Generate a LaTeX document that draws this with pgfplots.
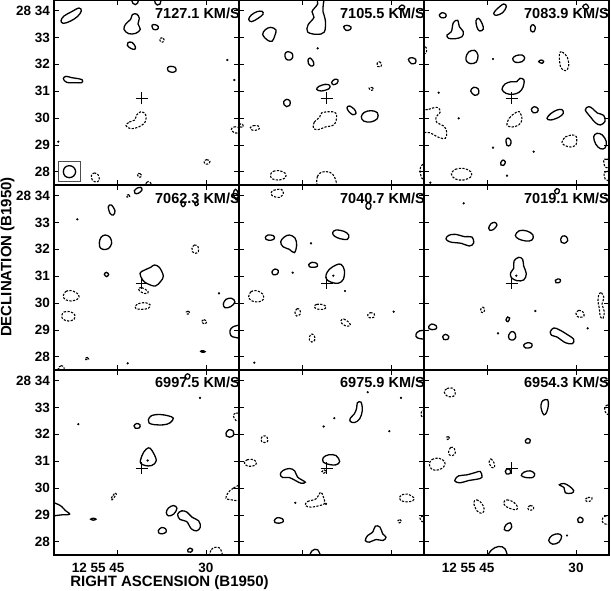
\documentclass[border=0pt]{standalone}
\usepackage{pgfplots}
\pgfplotsset{compat=1.18}
\usepackage{fontspec}
\setmainfont{Liberation Sans}
\pgfplotsset{
  panel/.style={
    scale only axis, width=185pt, height=185pt, anchor=north west,
    xmin=0, xmax=185, ymin=0, ymax=185,
    xtick={63,152}, ytick={13.1,40,66.9,93.8,120.7,147.6,174.5},
    xticklabels={}, yticklabels={},
    tick align=inside, xtick pos=both, ytick pos=both,
    xticklabel pos=left, yticklabel pos=left,
    major tick length=5pt,
    axis line style={line width=1.1pt},
    every tick/.style={line width=0.9pt, black},
    ticklabel style={font=\fontsize{13.5}{15}\selectfont\bfseries, inner sep=0pt},
    xticklabel style={yshift=-8pt},
    yticklabel style={xshift=-4pt},
  },
  pcon/.style={black, line width=1.3pt, smooth cycle, tension=0.6},
  ncon/.style={black, line width=1.1pt, smooth cycle, tension=0.6, dash pattern=on 2.2pt off 1.4pt},
  dotc/.style={black, only marks, mark=*, mark size=0.9pt},
  crossc/.style={black, only marks, mark=+, mark size=6pt, mark options={line width=0.9pt}},
}
\newcommand{\lab}{\fontsize{14.5}{16}\selectfont\bfseries}
\begin{document}
\begin{tikzpicture}
\useasboundingbox (0pt,0pt) rectangle (611pt,-590pt);
% ---------------- Panel 1
\begin{axis}[panel, at={(54pt,0pt)}, x filter/.expression={x/3-54}, y filter/.expression={185-y/3},
  yticklabels={28,29,30,31,32,33,28 34}]
\addplot[pcon] coordinates {(183,62)(192,48)(215,35)(237,24)(244,33)(232,50)(210,64)(190,70)};
\addplot[pcon] coordinates {(392,58)(397,44)(410,42)(418,55)(414,72)(421,88)(407,100)(386,101)(372,88)(377,72)};
\addplot[pcon] coordinates {(384,128)(396,127)(406,140)(404,148)(392,145)(382,136)};
\addplot[pcon] coordinates {(456,76)(466,74)(475,80)(472,88)(460,88)};
\addplot[ncon] coordinates {(480,115)(490,115)(492,124)(482,126)};
\addplot[pcon] coordinates {(395,-5)(399,10)(406,14)(413,9)(414,-5)};
\addplot[pcon] coordinates {(465,-5)(466,10)(472,15)(480,12)(482,-5)};
\addplot[pcon] coordinates {(503,203)(512,199)(525,202)(528,212)(518,217)(505,213)};
\addplot[pcon] coordinates {(190,236)(198,229)(215,233)(235,236)(247,240)(245,248)(225,248)(200,247)};
\addplot[ncon] coordinates {(378,377)(388,366)(404,360)(410,345)(423,335)(437,344)(436,365)(418,380)(392,386)};
\addplot[ncon] coordinates {(694,388)(702,381)(715,382)(716,396)(704,399)};
\addplot[ncon] coordinates {(612,484)(620,479)(630,484)(624,492)(614,491)};
\addplot[ncon] coordinates {(274,527)(282,519)(294,524)(298,540)(288,546)(277,540)};
\addplot[ncon] coordinates {(412,522)(420,521)(425,528)(417,532)};
\addplot[ncon] coordinates {(436,560)(440,547)(450,546)(455,560)};
\addplot[dotc] coordinates {(682,180)(703,240)(175,425)};
\addplot[gray!60!black, line width=1.3pt] coordinates {(176,484)(242,484)(242,545)(176,545)(176,484)};
\addplot[pcon] coordinates {(208,497)(221,502)(227,515)(221,528)(208,533)(195,528)(190,515)(195,502)};
\addplot[crossc] coordinates {(424.5,294.9)};
\end{axis}
% ---------------- Panel 2
\begin{axis}[panel, at={(239pt,0pt)}, x filter/.expression={x/3-3}, y filter/.expression={185-y/3}]
\addplot[pcon] coordinates {(38,58)(46,45)(63,35)(78,34)(81,43)(66,55)(47,65)};
\addplot[pcon] coordinates {(80,104)(88,89)(104,82)(120,90)(116,108)(108,124)(94,120)};
\addplot[pcon] coordinates {(244,-5)(245,12)(228,35)(234,52)(216,75)(215,96)(242,103)(265,96)(268,60)(261,35)(262,12)(263,-5)};
\addplot[pcon] coordinates {(323,80)(333,76)(345,81)(342,89)(330,91)};
\addplot[pcon] coordinates {(147,162)(155,155)(168,160)(170,172)(162,180)(150,177)};
\addplot[pcon] coordinates {(216,180)(222,174)(231,183)(233,195)(225,198)(217,190)};
\addplot[ncon] coordinates {(424,188)(431,185)(437,192)(433,201)(425,199)};
\addplot[pcon] coordinates {(517,178)(527,173)(539,178)(538,189)(526,191)};
\addplot[pcon] coordinates {(242,268)(249,259)(268,253)(281,256)(279,266)(256,273)};
\addplot[pcon] coordinates {(287,247)(296,238)(306,240)(303,250)(292,254)};
\addplot[ncon] coordinates {(399,264)(407,262)(413,268)(405,271)};
\addplot[pcon] coordinates {(143,305)(152,298)(162,303)(161,316)(152,320)(144,314)};
\addplot[pcon] coordinates {(333,323)(341,318)(355,328)(360,340)(350,344)(338,334)};
\addplot[pcon] coordinates {(376,350)(385,337)(405,332)(424,338)(424,356)(404,366)(383,363)};
\addplot[ncon] coordinates {(232,384)(235,366)(251,352)(258,338)(295,336)(302,350)(294,374)(268,381)(246,389)};
\addplot[ncon] coordinates {(43,383)(52,377)(67,378)(70,386)(58,391)(46,389)};
\addplot[ncon] coordinates {(12,372)(20,373)(22,380)(14,381)};
\addplot[ncon] coordinates {(103,525)(112,514)(130,512)(148,520)(148,533)(130,540)(110,537)};
\addplot[ncon] coordinates {(248,560)(244,530)(258,516)(282,517)(296,532)(298,560)};
\addplot[ncon] coordinates {(552,510)(558,495)(570,495)(570,535)(558,535)};
\addplot[pcon] coordinates {(488,25)(497,15)(506,20)(500,30)};
\addplot[dotc] coordinates {(245,145)};
\addplot[crossc] coordinates {(271.5,294.9)};
\end{axis}
% ---------------- Panel 3
\begin{axis}[panel, at={(424pt,0pt)}, x filter/.expression={x/3-2}, y filter/.expression={185-y/3}]
\addplot[pcon] coordinates {(52,45)(61,38)(72,43)(70,52)(58,53)};
\addplot[pcon] coordinates {(75,105)(88,95)(94,68)(107,61)(112,80)(124,95)(120,110)(100,116)(80,115)};
\addplot[pcon] coordinates {(162,62)(170,55)(180,70)(184,87)(173,93)(165,82)};
\addplot[pcon] coordinates {(215,40)(226,26)(245,12)(253,20)(242,38)(223,46)};
\addplot[pcon] coordinates {(326,80)(333,74)(340,82)(336,95)(327,93)};
\addplot[ncon] coordinates {(-5,140)(10,140)(14,150)(10,160)(-5,160)};
\addplot[pcon] coordinates {(132,172)(140,156)(158,151)(168,166)(163,186)(146,191)(134,184)};
\addplot[pcon] coordinates {(272,176)(282,167)(300,165)(308,174)(300,185)(280,187)};
\addplot[pcon] coordinates {(350,185)(357,180)(365,184)(360,190)};
\addplot[ncon] coordinates {(412,162)(421,156)(436,172)(440,198)(431,212)(416,202)};
\addplot[pcon] coordinates {(240,268)(249,252)(268,245)(284,245)(294,235)(306,240)(303,262)(291,277)(272,283)(252,280)};
\addplot[pcon] coordinates {(146,273)(155,262)(168,266)(170,280)(158,286)};
\addplot[ncon] coordinates {(-5,335)(20,328)(45,322)(55,335)(42,352)(45,368)(65,378)(74,395)(70,415)(50,412)(22,398)(-5,395)(-10,365)};
\addplot[ncon] coordinates {(255,375)(262,354)(278,340)(292,335)(300,358)(290,375)(270,381)};
\addplot[pcon] coordinates {(328,328)(337,320)(348,326)(346,336)(334,338)};
\addplot[pcon] coordinates {(375,355)(386,341)(405,330)(420,329)(424,340)(410,352)(386,360)};
\addplot[pcon] coordinates {(490,330)(500,320)(512,326)(526,339)(545,346)(549,364)(535,375)(520,368)(508,354)};
\addplot[ncon] coordinates {(420,426)(430,411)(450,405)(463,410)(462,434)(445,441)(426,435)};
\addplot[pcon] coordinates {(515,410)(525,400)(541,405)(553,425)(549,444)(535,446)(521,432)};
\addplot[pcon] coordinates {(252,420)(259,414)(267,423)(264,436)(255,436)};
\addplot[pcon] coordinates {(236,488)(243,480)(250,486)(245,496)(237,495)};
\addplot[ncon] coordinates {(545,480)(552,478)(565,480)(565,500)(550,502)};
\addplot[ncon] coordinates {(88,522)(100,508)(125,505)(146,515)(147,530)(125,540)(100,537)};
\addplot[ncon] coordinates {(546,520)(553,515)(565,515)(565,540)(550,538)};
\addplot[pcon] coordinates {(482,20)(492,12)(500,22)(492,28)};
\addplot[dotc] coordinates {(213,177)(50,278)(110,355)(213,443)(335,455)(255,527)(25,548)};
\addplot[crossc] coordinates {(268.5,294.9)};
\end{axis}
% ---------------- Panel 4
\begin{axis}[panel, at={(54pt,-185pt)}, x filter/.expression={x/3-54}, y filter/.expression={190-y/3},
  yticklabels={28,29,30,31,32,33,28 34}]
\addplot[ncon] coordinates {(380,45)(387,44)(389,50)(381,51)};
\addplot[pcon] coordinates {(403,32)(410,25)(422,22)(426,30)(415,40)(405,40)};
\addplot[pcon] coordinates {(325,80)(334,75)(345,92)(340,105)(330,100)};
\addplot[pcon] coordinates {(298,188)(303,172)(316,165)(330,172)(335,190)(325,206)(308,208)(299,200)};
\addplot[ncon] coordinates {(576,205)(583,195)(594,200)(595,215)(585,220)(577,215)};
\addplot[pcon] coordinates {(313,283)(319,277)(326,283)(320,290)};
\addplot[pcon] coordinates {(420,280)(432,271)(452,262)(463,255)(478,262)(490,288)(482,304)(466,318)(442,311)(428,300)};
\addplot[ncon] coordinates {(415,327)(425,323)(444,334)(440,341)(425,337)};
\addplot[ncon] coordinates {(190,347)(198,334)(215,332)(236,344)(233,357)(213,363)(195,358)};
\addplot[ncon] coordinates {(405,380)(415,371)(435,368)(450,374)(445,385)(425,388)(408,386)};
\addplot[pcon] coordinates {(670,372)(678,358)(695,355)(705,366)(692,380)(675,383)};
\addplot[ncon] coordinates {(185,408)(192,396)(210,395)(224,404)(222,418)(205,423)(190,418)};
\addplot[ncon] coordinates {(559,396)(565,393)(569,400)(562,402)};
\addplot[ncon] coordinates {(605,425)(612,419)(620,425)(614,432)};
\addplot[pcon] coordinates {(725,438)(700,440)(690,452)(693,467)(705,472)(725,472)};
\addplot[pcon] coordinates {(602,514)(608,512)(615,515)(608,517)};
\addplot[ncon] coordinates {(255,535)(262,532)(266,537)(258,539)};
\addplot[ncon] coordinates {(175,566)(183,557)(192,562)(190,572)};
\addplot[pcon] coordinates {(543,72)(550,66)(556,73)(549,80)};
\addplot[pcon] coordinates {(584,70)(590,66)(595,72)(588,77)};
\addplot[pcon] coordinates {(700,40)(706,28)(714,38)(712,60)(705,55)};
\addplot[dotc] coordinates {(232,118)(657,340)(383,550)};
\addplot[crossc] coordinates {(424.5,309.9)};
\end{axis}
% ---------------- Panel 5
\begin{axis}[panel, at={(239pt,-185pt)}, x filter/.expression={x/3-3}, y filter/.expression={190-y/3}]
\addplot[ncon] coordinates {(105,40)(113,31)(136,28)(142,40)(131,52)(112,49)};
\addplot[pcon] coordinates {(390,75)(397,68)(405,75)(401,87)(392,85)};
\addplot[pcon] coordinates {(290,158)(300,150)(324,154)(338,165)(334,178)(312,176)(295,168)};
\addplot[pcon] coordinates {(88,172)(96,165)(112,167)(115,176)(103,181)(90,178)};
\addplot[pcon] coordinates {(134,185)(145,171)(160,165)(177,174)(182,196)(175,218)(160,208)(141,200)};
\addplot[pcon] coordinates {(218,254)(228,247)(242,250)(244,259)(232,262)(220,260)};
\addplot[pcon] coordinates {(108,275)(117,267)(127,272)(124,282)(112,284)};
\addplot[pcon] coordinates {(270,285)(280,268)(300,255)(315,253)(325,270)(322,298)(306,310)(284,306)(272,298)};
\addplot[ncon] coordinates {(38,350)(45,335)(62,332)(80,342)(82,358)(67,366)(46,362)};
\addplot[ncon] coordinates {(235,380)(242,373)(262,374)(270,382)(262,388)(243,387)};
\addplot[ncon] coordinates {(177,398)(183,386)(192,390)(192,403)(182,408)};
\addplot[ncon] coordinates {(395,405)(403,398)(415,402)(413,412)(400,413)};
\addplot[ncon] coordinates {(315,422)(323,417)(340,428)(342,437)(330,438)(317,430)};
\addplot[ncon] coordinates {(220,472)(226,462)(235,467)(236,481)(227,486)(220,480)};
\addplot[pcon] coordinates {(575,453)(550,453)(540,463)(545,474)(575,476)};
\addplot[dotc] coordinates {(225,190)(170,278)(292,287)(327,333)(473,395)(55,548)};
\addplot[crossc] coordinates {(271.5,309.9)};
\end{axis}
% ---------------- Panel 6
\begin{axis}[panel, at={(424pt,-185pt)}, x filter/.expression={x/3-2}, y filter/.expression={190-y/3}]
\addplot[pcon] coordinates {(398,32)(404,26)(412,30)(409,40)(400,40)};
\addplot[pcon] coordinates {(200,145)(206,132)(218,127)(225,135)(215,148)(204,151)};
\addplot[pcon] coordinates {(72,177)(80,166)(100,163)(128,170)(150,171)(155,189)(142,198)(118,190)(85,186)};
\addplot[pcon] coordinates {(280,166)(292,152)(315,153)(333,165)(330,180)(312,183)(290,177)};
\addplot[pcon] coordinates {(416,178)(422,168)(433,170)(437,182)(427,190)(418,187)};
\addplot[pcon] coordinates {(266,278)(275,265)(276,243)(290,232)(302,238)(305,258)(313,281)(305,300)(285,302)(268,293)};
\addplot[pcon] coordinates {(400,301)(407,297)(415,299)(413,307)(402,308)};
\addplot[ncon] coordinates {(530,345)(538,338)(546,354)(540,372)(547,395)(543,415)(535,410)(532,385)(528,365)};
\addplot[ncon] coordinates {(176,388)(182,381)(188,388)(184,398)(177,395)};
\addplot[ncon] coordinates {(462,400)(470,391)(483,396)(486,408)(474,412)(464,408)};
\addplot[pcon] coordinates {(252,420)(257,411)(263,414)(258,425)};
\addplot[pcon] coordinates {(20,440)(29,432)(42,437)(43,446)(30,449)(21,446)};
\addplot[pcon] coordinates {(62,470)(70,463)(80,469)(77,478)(65,478)};
\addplot[pcon] coordinates {(260,466)(268,455)(278,458)(281,472)(273,480)(262,477)};
\addplot[pcon] coordinates {(385,455)(395,444)(411,449)(435,463)(455,478)(451,491)(430,488)(405,471)(389,466)};
\addplot[pcon] coordinates {(305,495)(317,488)(330,492)(327,502)(311,504)};
\addplot[dotc] coordinates {(125,70)(283,287)(340,393)(228,460)(497,445)};
\addplot[crossc] coordinates {(268.5,309.9)};
\end{axis}
% ---------------- Panel 7
\begin{axis}[panel, at={(54pt,-370pt)}, x filter/.expression={x/3-54}, y filter/.expression={189.5-y/3},
  yticklabels={28,29,30,31,32,33,28 34}, xticklabels={\llap{12 55 }45,30}]
\addplot[pcon] coordinates {(555,32)(562,25)(570,30)(566,40)(557,39)};
\addplot[pcon] coordinates {(445,163)(455,150)(480,147)(505,151)(520,158)(510,172)(490,178)(460,177)(447,172)};
\addplot[pcon] coordinates {(402,181)(410,174)(420,178)(418,187)(406,188)};
\addplot[pcon] coordinates {(678,203)(686,193)(699,196)(700,210)(688,215)(679,211)};
\addplot[ncon] coordinates {(700,150)(708,143)(725,145)(725,165)(708,165)};
\addplot[pcon] coordinates {(422,282)(431,260)(445,247)(456,255)(469,285)(455,300)(435,300)(422,293)};
\addplot[ncon] coordinates {(333,400)(339,390)(346,382)(349,386)(342,396)(336,403)};
\addplot[ncon] coordinates {(725,360)(700,368)(684,382)(678,398)(694,403)(725,402)};
\addplot[pcon] coordinates {(150,412)(168,414)(185,423)(196,435)(209,446)(186,448)(150,448)};
\addplot[pcon] coordinates {(272,461)(280,458)(288,461)(280,464)};
\addplot[pcon] coordinates {(499,441)(505,428)(520,420)(531,428)(521,446)(505,451)};
\addplot[pcon] coordinates {(533,446)(545,436)(561,440)(576,455)(596,466)(601,485)(590,496)(574,490)(560,468)(540,462)};
\addplot[pcon] coordinates {(475,495)(485,486)(497,490)(498,500)(486,505)(476,502)};
\addplot[pcon] coordinates {(563,554)(570,548)(578,553)(572,560)(564,559)};
\addplot[ncon] coordinates {(630,580)(634,552)(650,545)(662,552)(666,580)};
\addplot[dotc] coordinates {(600,97)(235,176)(443,285)};
\addplot[crossc] coordinates {(424.5,308.4)};
\end{axis}
% ---------------- Panel 8
\begin{axis}[panel, at={(239pt,-370pt)}, x filter/.expression={x/3-3}, y filter/.expression={189.5-y/3}]
\addplot[pcon] coordinates {(343,168)(343,158)(355,145)(362,128)(364,112)(375,110)(379,135)(371,160)(356,171)};
\addplot[ncon] coordinates {(555,145)(560,135)(575,135)(575,155)(560,156)};
\addplot[ncon] coordinates {(75,220)(82,211)(93,215)(95,228)(85,231)(77,228)};
\addplot[ncon] coordinates {(25,292)(33,283)(50,282)(61,290)(56,300)(35,302)};
\addplot[pcon] coordinates {(262,290)(262,276)(278,268)(300,270)(311,288)(300,298)(280,297)};
\addplot[ncon] coordinates {(258,318)(264,313)(270,318)(263,323)};
\addplot[pcon] coordinates {(133,326)(141,315)(160,309)(176,316)(185,335)(208,350)(195,353)(180,346)(160,336)(140,336)};
\addplot[ncon] coordinates {(208,420)(215,408)(240,400)(254,380)(262,394)(266,414)(251,420)(226,425)};
\addplot[ncon] coordinates {(490,397)(498,388)(515,386)(533,396)(530,406)(512,409)(494,405)};
\addplot[pcon] coordinates {(115,465)(123,457)(138,459)(142,468)(130,473)(117,471)};
\addplot[ncon] coordinates {(486,465)(492,462)(496,469)(489,472)};
\addplot[ncon] coordinates {(552,458)(560,452)(570,455)(570,468)(558,468)};
\addplot[pcon] coordinates {(388,525)(395,510)(410,500)(418,482)(432,485)(440,505)(450,515)(441,525)(420,522)(400,530)};
\addplot[pcon] coordinates {(221,580)(228,556)(245,553)(253,580)};
\addplot[dotc] coordinates {(395,80)(495,97)(295,158)(263,183)(460,197)(178,412)(270,415)};
\addplot[crossc] coordinates {(271.5,308.4)};
\end{axis}
% ---------------- Panel 9
\begin{axis}[panel, at={(424pt,-370pt)}, x filter/.expression={x/3-2}, y filter/.expression={189.5-y/3},
  xticklabels={\llap{12 55 }45,30}]
\addplot[ncon] coordinates {(67,80)(75,69)(92,68)(100,80)(95,92)(77,93)};
\addplot[pcon] coordinates {(357,118)(363,105)(377,103)(379,120)(374,140)(366,148)(359,135)};
\addplot[ncon] coordinates {(548,130)(553,120)(565,120)(565,145)(553,145)};
\addplot[ncon] coordinates {(74,215)(80,213)(83,220)(76,222)};
\addplot[pcon] coordinates {(310,226)(317,219)(325,224)(323,232)(312,232)};
\addplot[ncon] coordinates {(80,258)(86,246)(96,248)(100,262)(92,270)(82,268)};
\addplot[ncon] coordinates {(22,296)(30,282)(50,278)(68,288)(66,303)(50,313)(30,312)};
\addplot[ncon] coordinates {(202,285)(207,280)(216,292)(218,305)(210,306)(203,296)};
\addplot[pcon] coordinates {(250,318)(256,310)(265,314)(264,324)(253,325)};
\addplot[pcon] coordinates {(298,330)(306,320)(325,316)(338,325)(332,336)(311,336)};
\addplot[pcon] coordinates {(100,341)(110,331)(135,328)(160,321)(175,318)(180,335)(166,341)(140,345)(115,352)(100,348)};
\addplot[pcon] coordinates {(412,358)(426,354)(442,362)(455,375)(449,383)(430,382)(426,366)};
\addplot[ncon] coordinates {(490,402)(498,396)(510,397)(506,406)(495,408)};
\addplot[ncon] coordinates {(155,412)(164,403)(180,414)(187,434)(178,443)(165,436)};
\addplot[ncon] coordinates {(245,411)(255,403)(275,410)(287,425)(281,433)(262,428)(250,421)};
\addplot[ncon] coordinates {(317,427)(325,420)(335,425)(332,433)(320,433)};
\addplot[pcon] coordinates {(467,462)(474,455)(483,461)(480,470)(469,470)};
\addplot[ncon] coordinates {(540,465)(547,453)(565,452)(565,475)(548,475)};
\addplot[pcon] coordinates {(247,492)(252,478)(265,472)(269,485)(259,496)};
\addplot[pcon] coordinates {(380,525)(390,510)(408,505)(419,512)(411,530)(392,536)};
\addplot[pcon] coordinates {(198,580)(208,554)(230,543)(249,550)(252,580)};
\addplot[dotc] coordinates {(435,510)};
\addplot[crossc] coordinates {(268.5,308.4)};
\end{axis}
% ---------------- labels
\node[anchor=north east, inner sep=0pt, font=\lab] at (240pt,-7.5pt) {7127.1 KM/S};
\node[anchor=north east, inner sep=0pt, font=\lab] at (425pt,-7.5pt) {7105.5 KM/S};
\node[anchor=north east, inner sep=0pt, font=\lab] at (609pt,-7.5pt) {7083.9 KM/S};
\node[anchor=north east, inner sep=0pt, font=\lab] at (240pt,-192.5pt) {7062.3 KM/S};
\node[anchor=north east, inner sep=0pt, font=\lab] at (425pt,-192.5pt) {7040.7 KM/S};
\node[anchor=north east, inner sep=0pt, font=\lab] at (609pt,-192.5pt) {7019.1 KM/S};
\node[anchor=north east, inner sep=0pt, font=\lab] at (240pt,-377pt) {6997.5 KM/S};
\node[anchor=north east, inner sep=0pt, font=\lab] at (425pt,-377pt) {6975.9 KM/S};
\node[anchor=north east, inner sep=0pt, font=\lab] at (609pt,-377pt) {6954.3 KM/S};
\node[rotate=90, inner sep=0pt, font=\fontsize{15}{17}\selectfont\bfseries] at (7.5pt,-257pt) {DECLINATION (B1950)};
\node[inner sep=0pt, font=\fontsize{15}{17}\selectfont\bfseries] at (169.5pt,-583pt) {RIGHT ASCENSION (B1950)};
\end{tikzpicture}
\end{document}
